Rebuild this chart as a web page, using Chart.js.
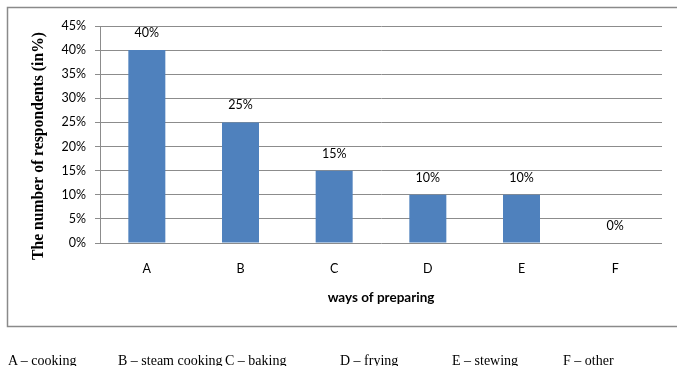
<!DOCTYPE html>
<html>
<head>
<meta charset="utf-8">
<script src="https://cdn.jsdelivr.net/npm/chart.js@4.4.1/dist/chart.umd.min.js"></script>
<style>
  html, body { margin: 0; padding: 0; background: #fff; }
  #wrap { position: relative; width: 677px; height: 366px; overflow: hidden; }
  canvas { position: absolute; left: 0; top: 0; }
  .key { position: absolute; top: 353px; font: 14px/16px "Liberation Serif", "Times New Roman", serif; color: #000; white-space: nowrap; }
</style>
</head>
<body>
<div id="wrap">
  <canvas id="c" width="677" height="366"></canvas>
  <span class="key" style="left:8px">A – cooking</span>
  <span class="key" style="left:118px">B – steam cooking</span>
  <span class="key" style="left:225px">C – baking</span>
  <span class="key" style="left:340px">D – frying</span>
  <span class="key" style="left:452px">E – stewing</span>
  <span class="key" style="left:563px">F – other</span>
</div>
<script>
// Share of respondents by way of preparing
const categories = ['A', 'B', 'C', 'D', 'E', 'F'];
const respondentsPct = [40, 25, 15, 10, 10, 0];
const yTicksPct = [0, 5, 10, 15, 20, 25, 30, 35, 40, 45];

const xTitle = 'ways of preparing';
const yTitle = 'The number of respondents (in%)';

const SANS = 'Lato, "Open Sans", sans-serif';
const SERIF = '"Liberation Serif", "Times New Roman", serif';
const GRID = '#8c8c8c';

// Outer frame, axis titles and value labels
const decorations = {
  id: 'decorations',
  beforeDraw(chart) {
    const ctx = chart.ctx;
    ctx.save();
    ctx.fillStyle = '#fff';
    ctx.fillRect(0, 0, chart.width, chart.height);
    ctx.strokeStyle = '#8a8a8a';
    ctx.lineWidth = 1.5;
    ctx.strokeRect(7.5, 7.5, 700, 319);
    ctx.restore();
  },
  afterDatasetsDraw(chart) {
    const ctx = chart.ctx;
    const meta = chart.getDatasetMeta(0);
    ctx.save();
    ctx.fillStyle = '#000';
    ctx.font = '12.5px ' + SANS;
    ctx.textAlign = 'center';
    ctx.textBaseline = 'middle';
    meta.data.forEach((bar, i) => {
      ctx.fillText(respondentsPct[i] + '%', bar.x, bar.y - 17);
    });
    ctx.restore();
  },
  afterDraw(chart) {
    const ctx = chart.ctx;
    const area = chart.chartArea;
    ctx.save();
    ctx.fillStyle = '#000';
    ctx.textAlign = 'center';
    ctx.textBaseline = 'middle';
    ctx.font = 'bold 13.5px ' + SANS;
    ctx.fillText(xTitle, (area.left + area.right) / 2, 298);
    ctx.translate(39, 146);
    ctx.rotate(-Math.PI / 2);
    ctx.font = 'bold 15.7px ' + SERIF;
    ctx.fillText(yTitle, 0, 0);
    ctx.restore();
  }
};

new Chart(document.getElementById('c'), {
  type: 'bar',
  data: {
    labels: categories,
    datasets: [{
      data: respondentsPct,
      backgroundColor: '#4F81BD',
      borderWidth: 0,
      categoryPercentage: 1,
      barPercentage: 0.395
    }]
  },
  options: {
    responsive: false,
    animation: false,
    layout: { padding: { left: 8, top: 26, right: 15, bottom: 40 } },
    plugins: { legend: { display: false }, tooltip: { enabled: false } },
    scales: {
      x: {
        grid: { display: false, drawTicks: false },
        border: { display: false },
        ticks: { color: '#000', font: { family: SANS, size: 12.5 }, padding: 18 },
        afterFit(scale) { scale.height = 83; }
      },
      y: {
        min: 0,
        max: 45,
        afterBuildTicks(scale) { scale.ticks = yTicksPct.map(v => ({ value: v })); },
        grid: { color: GRID, lineWidth: 1, tickLength: 5 },
        border: { display: true, color: GRID, width: 1 },
        ticks: {
          color: '#000',
          font: { family: SANS, size: 12.5 },
          padding: 9,
          callback: v => v + '%'
        },
        afterFit(scale) { scale.width = 92; }
      }
    }
  },
  plugins: [decorations]
});
</script>
</body>
</html>
